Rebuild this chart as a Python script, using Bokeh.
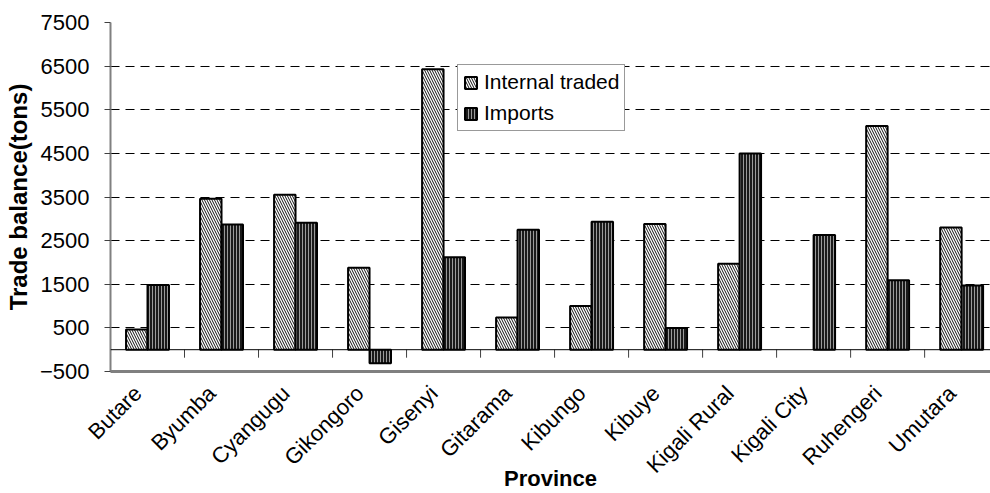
from bokeh.plotting import figure
from bokeh.models import (Range1d, FixedTicker, Span, Legend, LegendItem,
                          ColumnDataSource)
from bokeh.embed import file_html
from bokeh.resources import INLINE
from math import pi

# Trade balance per province (tons)
provinces = ["Butare", "Byumba", "Cyangugu", "Gikongoro", "Gisenyi", "Gitarama",
             "Kibungo", "Kibuye", "Kigali Rural", "Kigali City", "Ruhengeri", "Umutara"]
internal_traded = [460, 3460, 3550, 1880, 6430, 740, 1000, 2880, 1970, 0, 5130, 2800]
imports = [1480, 2870, 2910, -310, 2120, 2750, 2930, 500, 4500, 2630, 1590, 1470]
y_ticks = [-500, 500, 1500, 2500, 3500, 4500, 5500, 6500, 7500]

FONT = "Liberation Sans"
W, H = 990, 493
BORDER_L, BORDER_R, BORDER_T, BORDER_B = 110, 0, 22, 122
Y0, Y1 = -500, 7500
BAR_W = 0.29
SHIFT = 0.13   # category labels sit a little left of the bar groups

n = len(provinces)
pos = list(range(1, n + 1))

p = figure(width=W, height=H, output_backend="svg", toolbar_location=None,
           x_range=Range1d(0.5 + SHIFT, n + 0.39 + SHIFT), y_range=Range1d(Y0, Y1),
           min_border_left=BORDER_L, min_border_right=BORDER_R,
           min_border_top=BORDER_T, min_border_bottom=BORDER_B)
p.outline_line_color = None
p.background_fill_color = "white"
p.border_fill_color = "white"

def bar_source(vals, offset):
    xs = [x + SHIFT + offset for x, v in zip(pos, vals) if v != 0]
    tops = [v for v in vals if v != 0]
    return ColumnDataSource(dict(x=xs, top=tops))

r_int = p.vbar(x="x", top="top", bottom=0, width=BAR_W,
               source=bar_source(internal_traded, -BAR_W / 2),
               fill_color="white", line_color="black", line_width=2,
               hatch_pattern="left_diagonal_line", hatch_color="#111111",
               hatch_scale=5, hatch_weight=1)
r_imp = p.vbar(x="x", top="top", bottom=0, width=BAR_W,
               source=bar_source(imports, BAR_W / 2),
               fill_color="#1a1a1a", line_color="black", line_width=2,
               hatch_pattern="vertical_line", hatch_color="#9a9a9a",
               hatch_scale=3, hatch_weight=1)

# zero line with category separators hanging below it
p.add_layout(Span(location=0, dimension="width", line_color="black", line_width=1))
frame_h = H - BORDER_T - BORDER_B
tick_len = 8 * (Y1 - Y0) / frame_h
bounds = [x + SHIFT + 0.5 for x in pos[:-1]]
p.segment(x0=bounds, x1=bounds, y0=[0] * len(bounds), y1=[-tick_len] * len(bounds),
          line_color="#404040", line_width=1)

# y axis
p.yaxis.ticker = FixedTicker(ticks=y_ticks)
p.yaxis.axis_line_color = "#808080"
p.yaxis.axis_line_width = 2
p.yaxis.major_tick_line_color = "#404040"
p.yaxis.major_tick_out = 6
p.yaxis.major_tick_in = 0
p.yaxis.minor_tick_line_color = None
p.yaxis.major_label_text_font = FONT
p.yaxis.major_label_text_font_size = "22px"
p.yaxis.major_label_text_color = "black"
p.yaxis.major_label_standoff = 15
p.yaxis.axis_label = "Trade balance(tons)"
p.yaxis.axis_label_text_font = FONT
p.yaxis.axis_label_text_font_size = "24px"
p.yaxis.axis_label_text_font_style = "bold"
p.yaxis.axis_label_text_color = "black"
p.yaxis.axis_label_standoff = 5

# x axis
p.xaxis.ticker = FixedTicker(ticks=pos)
p.xaxis.major_label_overrides = {x: name for x, name in zip(pos, provinces)}
p.xaxis.major_label_orientation = pi / 4
p.xaxis.axis_line_color = "#808080"
p.xaxis.axis_line_width = 3
p.xaxis.major_tick_line_color = None
p.xaxis.minor_tick_line_color = None
p.xaxis.major_label_text_font = FONT
p.xaxis.major_label_text_font_size = "22px"
p.xaxis.major_label_text_color = "black"
p.xaxis.major_label_standoff = 12
p.xaxis.axis_label = "Province"
p.xaxis.axis_label_text_font = FONT
p.xaxis.axis_label_text_font_size = "22px"
p.xaxis.axis_label_text_font_style = "bold"
p.xaxis.axis_label_text_color = "black"
p.xaxis.axis_label_standoff = -24

# dashed gridlines, inner ticks only
p.xgrid.grid_line_color = None
p.ygrid.ticker = FixedTicker(ticks=y_ticks[1:-1])
p.ygrid.grid_line_color = "black"
p.ygrid.grid_line_dash = "9 6"
p.ygrid.grid_line_width = 1

legend = Legend(items=[LegendItem(label="Internal traded", renderers=[r_int]),
                       LegendItem(label="Imports", renderers=[r_imp])],
                location=(347, 240))
legend.label_text_font = FONT
legend.label_text_font_size = "21px"
legend.label_text_color = "black"
legend.glyph_width = 15
legend.glyph_height = 15
legend.label_standoff = 6
legend.padding = 5
legend.spacing = 7
legend.margin = 0
legend.border_line_color = "#333333"
legend.border_line_width = 1
legend.background_fill_color = "white"
legend.background_fill_alpha = 1
p.add_layout(legend)

open("out.html", "w").write(file_html(p, INLINE))
